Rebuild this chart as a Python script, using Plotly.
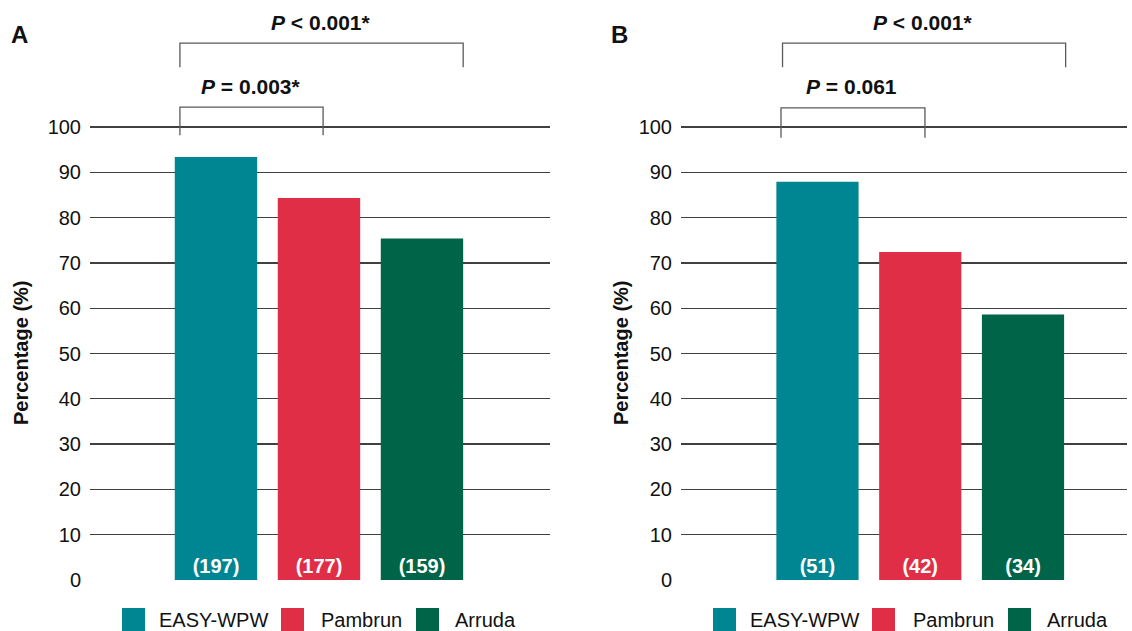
import plotly.graph_objects as go

# ---- data ----
methods = ["EASY-WPW", "Pambrun", "Arruda"]
colors = ["#008692", "#E02E47", "#006548"]
pct_A = [93.4, 84.3, 75.4]
n_A = [197, 177, 159]
pct_B = [87.9, 72.4, 58.6]
n_B = [51, 42, 34]
y_ticks = [0, 10, 20, 30, 40, 50, 60, 70, 80, 90, 100]
p_labels_A = ["<b><i>P</i> &lt; 0.001*</b>", "<b><i>P</i> = 0.003*</b>"]
p_labels_B = ["<b><i>P</i> &lt; 0.001*</b>", "<b><i>P</i> = 0.061</b>"]

W, H = 1132, 631          # reference pixel frame used for positions
H_FIG = 642               # figure height (compensates for vertical squeeze seen in capture)
FONT = "Liberation Sans, Arial, sans-serif"
GRID = "#404040"
BRACKET = "#5a5a5a"

fig = go.Figure()
fig.add_trace(go.Bar(x=methods, y=pct_A, marker=dict(color=colors, line=dict(width=0)),
                     text=[f"({v})" for v in n_A], textposition="inside",
                     insidetextanchor="start", textangle=0,
                     textfont=dict(color="white", size=20, family=FONT, weight="bold"),
                     xaxis="x", yaxis="y", showlegend=False, hoverinfo="skip"))
fig.add_trace(go.Bar(x=methods, y=pct_B, marker=dict(color=colors, line=dict(width=0)),
                     text=[f"({v})" for v in n_B], textposition="inside",
                     insidetextanchor="start", textangle=0,
                     textfont=dict(color="white", size=20, family=FONT, weight="bold"),
                     xaxis="x2", yaxis="y2", showlegend=False, hoverinfo="skip"))

ytop = 580 / 4.53
ydom = [51 / H, 1.0]
yax = dict(range=[0, ytop], tickvals=y_ticks, showgrid=True, gridcolor=GRID, gridwidth=1.4,
           zeroline=False, showline=False, ticks="", ticklabelstandoff=8,
           tickfont=dict(size=20, family=FONT, color="#111"), domain=ydom, fixedrange=True)
xax = dict(showgrid=False, zeroline=False, showline=False, showticklabels=False, ticks="",
           fixedrange=True)

fig.update_layout(
    width=W, height=H_FIG, autosize=False, margin=dict(l=0, r=0, t=0, b=0, pad=0),
    plot_bgcolor="white", paper_bgcolor="white", bargap=0.2,
    font=dict(family=FONT, size=20, color="#111"),
    xaxis=dict(xax, domain=[90 / W, 550 / W], range=[-1.223, 3.243]),
    xaxis2=dict(xax, domain=[681 / W, 1127 / W], range=[-1.328, 3.012]),
    yaxis=dict(yax, anchor="x"),
    yaxis2=dict(yax, anchor="x2"),
)

shapes = []
annos = []


def bracket(xr, yr, x0, x1, ytopv, yleg):
    shapes.append(dict(type="path", xref=xr, yref=yr,
                       path=f"M {x0},{yleg} L {x0},{ytopv} L {x1},{ytopv} L {x1},{yleg}",
                       line=dict(color=BRACKET, width=1.3)))


# Panel A brackets
bracket("x", "y", -0.35, 2.40, 118.5, 113.2)
bracket("x", "y", -0.35, 1.04, 104.4, 98.2)
annos.append(dict(xref="x", yref="y", x=1.02, y=123.0, text=p_labels_A[0], showarrow=False,
                  font=dict(size=21), xanchor="center", yanchor="middle"))
annos.append(dict(xref="x", yref="y", x=0.34, y=109.0, text=p_labels_A[1], showarrow=False,
                  font=dict(size=21), xanchor="center", yanchor="middle"))
# Panel B brackets
bracket("x2", "y2", -0.34, 2.415, 118.5, 113.2)
bracket("x2", "y2", -0.355, 1.046, 104.2, 97.6)
annos.append(dict(xref="x2", yref="y2", x=1.026, y=123.0, text=p_labels_B[0], showarrow=False,
                  font=dict(size=21), xanchor="center", yanchor="middle"))
annos.append(dict(xref="x2", yref="y2", x=0.336, y=109.0, text=p_labels_B[1], showarrow=False,
                  font=dict(size=21), xanchor="center", yanchor="middle"))

# Panel letters
for lx, letter in [(19.5, "A"), (619.5, "B")]:
    annos.append(dict(xref="paper", yref="paper", x=lx / W, y=1 - 34 / H, text=f"<b>{letter}</b>",
                      showarrow=False, font=dict(size=24, color="#111"), xanchor="center", yanchor="middle"))

# Axis titles
for tx in [21, 621]:
    annos.append(dict(xref="paper", yref="paper", x=tx / W, y=1 - 353 / H, text="<b>Percentage (%)</b>",
                      textangle=-90, showarrow=False, font=dict(size=20, color="#111"),
                      xanchor="center", yanchor="middle"))

# Legends (manual, large square swatches)
legend_pos = {
    "A": [(122, 157), (281, 319), (416, 453)],
    "B": [(713, 748), (872, 911), (1008, 1045)],
}
for panel, items in legend_pos.items():
    for (sx, tx), name, col in zip(items, methods, colors):
        shapes.append(dict(type="rect", xref="paper", yref="paper",
                           x0=sx / W, x1=(sx + 23) / W, y0=1 - 631 / H, y1=1 - 608 / H,
                           fillcolor=col, line=dict(width=0)))
        annos.append(dict(xref="paper", yref="paper", x=tx / W, y=1 - 620 / H, text=name,
                          showarrow=False, font=dict(size=20, color="#111"),
                          xanchor="left", yanchor="middle"))

fig.update_layout(shapes=shapes, annotations=annos)
fig.write_html(
    "out.html",
    config={"responsive": False, "displayModeBar": False, "staticPlot": True},
    post_script="document.body.style.margin='0px';",
)
